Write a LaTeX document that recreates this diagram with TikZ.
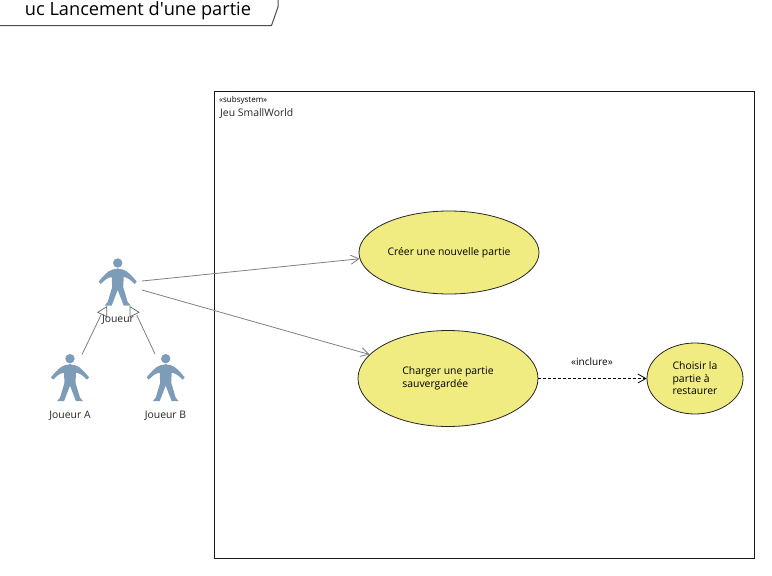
\documentclass[tikz,border=0pt]{standalone}
\usepackage{fontspec}
\setmainfont{Open Sans}
\usepackage{xcolor}
\usetikzlibrary{arrows.meta,shapes.geometric}

\definecolor{casefill}{HTML}{F0EC82}
\definecolor{actorblue}{HTML}{7C9CB8}

\begin{document}
\begin{tikzpicture}[
    x=1pt, y=-1pt,
    font=\fontsize{10.4}{12.5}\selectfont,
    usecase/.style={ellipse, draw=black!85, fill=casefill, line width=0.8pt, align=left, inner sep=0pt},
    actorlabel/.style={inner sep=0pt, text=black!85},
    assoc/.style={-{Straight Barb[length=8pt,width=9pt]}, draw=black!50, line width=0.8pt},
    genline/.style={draw=black!50, line width=0.8pt},
    gentip/.style={draw=black!60, fill=white, line width=0.7pt},
    include/.style={-{Straight Barb[length=8pt,width=9pt]}, densely dashed, draw=black, line width=0.8pt},
    actor/.pic={
        \fill[actorblue] (0,0) circle (4.7);
        \foreach \s in {1,-1} {
            \fill[actorblue, xscale=\s] (-1,5.5) -- (5,6.5)
                .. controls (10,7.5) and (15,14) .. (19,18.5) -- (17,21)
                .. controls (13,17) and (10,14.5) .. (6,14) -- (5.5,24)
                -- (10,39) -- (13,42.5) -- (6,42.5) -- (0,27) -- (-1,27) -- cycle;
        }
    }
]
\useasboundingbox (0,0) rectangle (772,576);

% Diagram frame
\draw[draw=black!70, line width=1pt] (0,25.5) -- (271.5,25.5) -- (278,7) -- (278,0);
\node[inner sep=0pt, font=\fontsize{18.2}{20}\selectfont] (title) at (138,10.5) {uc Lancement d\textquotesingle une partie};

% Subsystem
\node[rectangle, draw=black!90, line width=0.8pt, minimum width=540pt, minimum height=467pt, inner sep=0pt] (subsystem) at (484.5,324.5) {};
\node[inner sep=0pt, anchor=west, font=\fontsize{8}{9}\selectfont] (stereo) at (219,100.5) {«subsystem»};
\node[inner sep=0pt, anchor=west, text=black!85] (subname) at (220,114) {Jeu SmallWorld};

% Use cases
\node[usecase, minimum width=180pt, minimum height=83pt] (creer) at (449,252.5) {\raisebox{-1pt}{Créer une nouvelle partie}};
\node[usecase, minimum width=180pt, minimum height=96pt] (charger) at (448,378.5) {\raisebox{-1pt}{Charger une partie}\\\raisebox{-1pt}{sauvergardée}};
\node[usecase, minimum width=96pt, minimum height=71pt] (choisir) at (695,378.5) {Choisir la\\partie à\\restaurer};

% Actors
\pic at (117.7,263) {actor};
\pic at (70,358.7) {actor};
\pic at (165.7,358.7) {actor};

% Free ends at the actors
\coordinate (joueurhaut) at (142,281);
\coordinate (joueurbas) at (142,290);
\coordinate (joueuragauche) at (82,354.5);
\coordinate (joueurbdroite) at (155,354);
\coordinate (gentipa) at (101,315);
\coordinate (gentipb) at (136.7,315);

% Generalisations
\draw[genline] (joueuragauche) -- (gentipa);
\draw[genline] (joueurbdroite) -- (gentipb);
\draw[gentip] (106.7,306.7) -- (97.7,312.3) -- (106.7,316.7) -- cycle;
\draw[gentip] (130,306.7) -- (139,312.3) -- (130,316.7) -- cycle;

% Labels
\node[actorlabel] (joueur) at (118,320) {Joueur};
\node[actorlabel] (joueura) at (70,416) {Joueur A};
\node[actorlabel] (joueurb) at (165.5,416) {Joueur B};

% Associations
\draw[assoc] (joueurhaut) -- (creer.184.8);
\draw[assoc] (joueurbas) -- (charger.163);
\draw[include] (charger.east) -- (choisir.west);
\node[inner sep=0pt, font=\fontsize{10}{12}\selectfont] (inclure) at (592,361.5) {«inclure»};

\end{tikzpicture}
\end{document}
